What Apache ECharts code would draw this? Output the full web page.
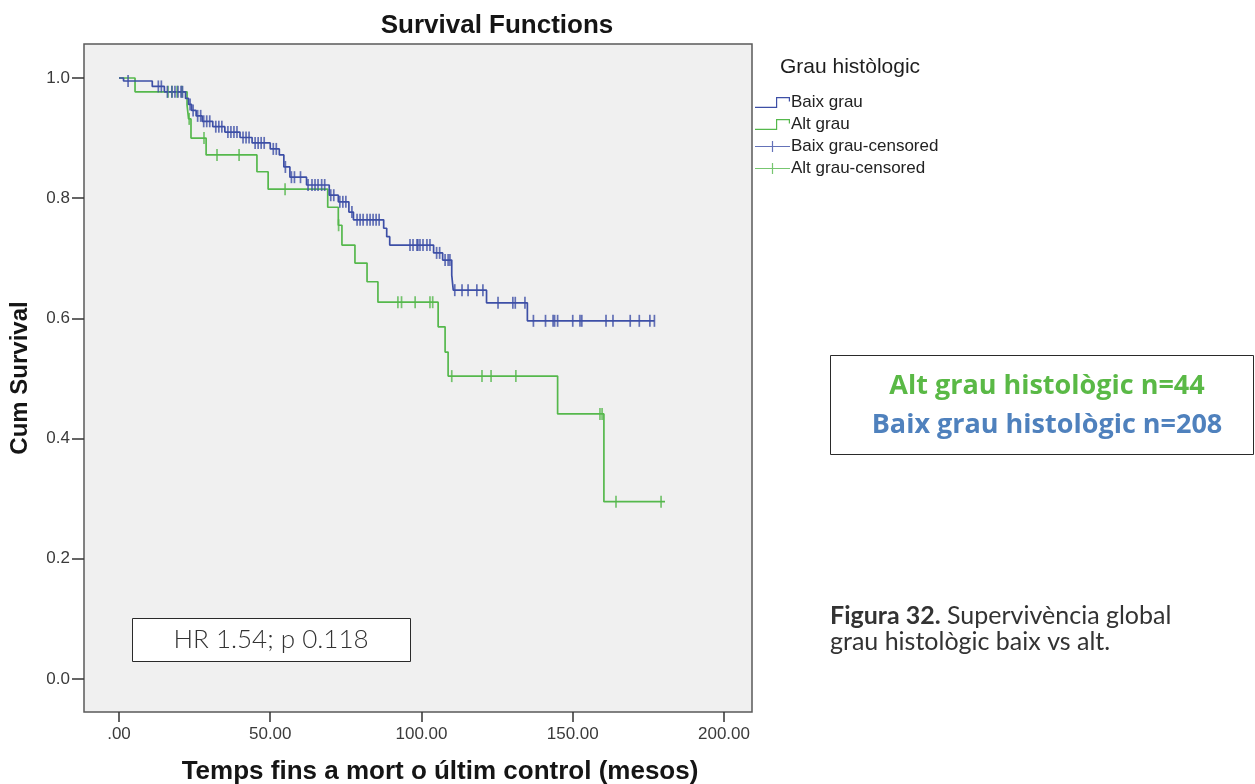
<!DOCTYPE html>
<html>
<head>
<meta charset="utf-8">
<script src="https://cdn.jsdelivr.net/npm/echarts@6/dist/echarts.min.js"></script>
<style>
  html, body { margin: 0; padding: 0; background: #ffffff; }
  #chart { width: 1255px; height: 784px; }
</style>
</head>
<body>
<div id="chart"></div>
<script>
// Axis ticks
const xTicks = [0, 50, 100, 150, 200];
const yTicks = [0, 0.2, 0.4, 0.6, 0.8, 1.0];

// Kaplan-Meier estimate, low histological grade (n=208): event times and survival after each step
const baixTimes = [0, 1.5, 11, 15, 22, 23, 24, 25.5, 27.5, 31, 35, 40, 44, 50, 53, 54.5, 56.5, 62, 69.5, 72.5, 76, 77.5, 87.5, 88.5, 89.5, 104, 107, 110, 110.5, 121.5, 135];
const baixSurv  = [1, 0.995, 0.986, 0.977, 0.966, 0.956, 0.946, 0.937, 0.928, 0.919, 0.910, 0.901, 0.892, 0.882, 0.872, 0.852, 0.835, 0.822, 0.805, 0.794, 0.777, 0.764, 0.750, 0.736, 0.722, 0.709, 0.697, 0.672, 0.647, 0.626, 0.596];
const baixLastFollowUp = 177;
// Censored follow-up times, low grade
const baixCensored = [3, 13, 14, 16, 17.5, 18.5, 19.5, 20.5, 21, 23.5, 24.5, 26, 27, 28, 29, 30, 32, 33, 34, 36, 37, 38, 39, 41, 42, 43, 45, 46, 47, 48, 51, 52, 55, 57, 58, 60, 62.5, 63.8, 64.8, 65.8, 67, 68, 70, 71, 73, 74, 75, 77, 78.7, 79.7, 80.7, 82, 83, 84, 85, 86, 96.2, 97.2, 98.5, 98.8, 99.5, 100.5, 101.8, 102.8, 105, 106, 107.8, 108.8, 109.4, 111, 113.4, 115.4, 118.3, 120.3, 125.3, 130.2, 131, 134.2, 137, 141, 143.5, 144, 145, 150, 152.4, 153, 161, 163.3, 169, 172, 175.5, 177];

// Kaplan-Meier estimate, high histological grade (n=44)
const altTimes = [0, 5.3, 22.5, 23, 23.8, 28.8, 45.6, 49.3, 69, 72.5, 73.7, 78, 82, 85.6, 105.5, 107.8, 108.8, 145, 160.3];
const altSurv  = [1, 0.977, 0.955, 0.932, 0.900, 0.872, 0.844, 0.815, 0.785, 0.755, 0.722, 0.692, 0.661, 0.627, 0.586, 0.544, 0.504, 0.441, 0.295];
const altLastFollowUp = 180.5;
// Censored follow-up times, high grade
const altCensored = [16.2, 17.5, 19.2, 20.8, 23.2, 28.1, 32.4, 39.7, 54.9, 72.6, 92.2, 93.4, 97.9, 102.8, 103.7, 110, 120, 123, 131.2, 159, 159.7, 164.3, 179.2];

const BLUE = '#3d4fa6';
const GREEN = '#55b84c';

// Survival value of a step function at time t
function survAt(times, surv, t) {
  let s = surv[0];
  for (let i = 0; i < times.length; i++) {
    if (times[i] <= t) s = surv[i];
  }
  return s;
}

function curve(times, surv, last) {
  const pts = times.map((t, i) => [t, surv[i]]);
  pts.push([last, surv[surv.length - 1]]);
  return pts;
}

function marks(times, surv, cens) {
  return cens.map(t => [t, survAt(times, surv, t)]);
}

const stepIcon = 'path://M0,9.8H21V0H35V4.5H33.8V1.2H22.2V11H0Z';
const crossIcon = 'path://M0,4.9H16.9V0H18.1V4.9H35V6.1H18.1V11H16.9V6.1H0Z';

const chart = echarts.init(document.getElementById('chart'), null, { renderer: 'canvas' });

const axisFont = 'Liberation Sans, Arial, sans-serif';
const bodyFont = 'Lato, "Open Sans", sans-serif';
const boxFont = '"Open Sans", Lato, sans-serif';

chart.setOption({
  backgroundColor: '#ffffff',
  animation: false,
  title: [
    {
      text: 'Survival Functions',
      left: 497, top: 13, textAlign: 'center', padding: 0,
      textStyle: { fontFamily: axisFont, fontSize: 26, fontWeight: 'bold', color: '#151515' }
    },
    {
      text: 'Grau històlogic',
      left: 780, top: 57, padding: 0,
      textStyle: { fontFamily: axisFont, fontSize: 21, fontWeight: 'normal', color: '#1e1e1e' }
    }
  ],
  legend: {
    orient: 'vertical',
    left: 755, top: 93,
    padding: 0,
    itemWidth: 35, itemHeight: 11, itemGap: 3,
    textStyle: { fontFamily: axisFont, fontSize: 17, color: '#222', padding: [0, 0, 0, -4], lineHeight: 19 },
    data: [
      { name: 'Baix grau', icon: stepIcon },
      { name: 'Alt grau', icon: stepIcon },
      { name: 'Baix grau-censored', icon: crossIcon },
      { name: 'Alt grau-censored', icon: crossIcon }
    ]
  },
  grid: {
    left: 84, right: 503, top: 44, bottom: 72,
    outerBoundsMode: 'none',
    containLabel: false,
    show: true,
    backgroundColor: '#f0f0f0',
    borderColor: '#5a5a5a',
    borderWidth: 1.5
  },
  xAxis: {
    type: 'value',
    min: -11.57, max: 209.26,
    axisLine: { show: false, onZero: false },
    splitLine: { show: false },
    axisTick: { show: true, inside: false, customValues: xTicks, length: 10, lineStyle: { color: '#333', width: 1.5 } },
    axisLabel: {
      customValues: xTicks, margin: 14,
      fontFamily: axisFont, fontSize: 17, color: '#3a3a3a',
      formatter: v => (v === 0 ? '.00' : v.toFixed(2))
    },
    name: 'Temps fins a mort o últim control (mesos)',
    nameLocation: 'middle', nameGap: 47,
    nameTextStyle: { fontFamily: axisFont, fontSize: 26, fontWeight: 'bold', color: '#151515', padding: [0, 0, 0, 44] }
  },
  yAxis: {
    type: 'value',
    min: -0.0549, max: 1.0566,
    axisLine: { show: false, onZero: false },
    splitLine: { show: false },
    axisTick: { show: true, inside: false, customValues: yTicks, length: 12, lineStyle: { color: '#333', width: 1.5 } },
    axisLabel: {
      customValues: yTicks, margin: 14,
      fontFamily: axisFont, fontSize: 17, color: '#3a3a3a',
      formatter: v => v.toFixed(1)
    },
    name: 'Cum Survival',
    nameLocation: 'middle', nameGap: 52, nameRotate: 90,
    nameTextStyle: { fontFamily: axisFont, fontSize: 24, fontWeight: 'bold', color: '#151515' }
  },
  series: [
    {
      name: 'Baix grau', type: 'line', step: 'end',
      symbol: 'none', showSymbol: false,
      color: BLUE,
      lineStyle: { color: BLUE, width: 1.7 },
      data: curve(baixTimes, baixSurv, baixLastFollowUp),
      z: 3
    },
    {
      name: 'Alt grau', type: 'line', step: 'end',
      symbol: 'none', showSymbol: false,
      color: GREEN,
      lineStyle: { color: GREEN, width: 1.7 },
      data: curve(altTimes, altSurv, altLastFollowUp),
      z: 2
    },
    {
      name: 'Baix grau-censored', type: 'scatter',
      symbol: 'path://M0,0H1V10H0Z', symbolSize: [1.7, 12],
      color: BLUE,
      itemStyle: { color: BLUE },
      data: marks(baixTimes, baixSurv, baixCensored),
      z: 4
    },
    {
      name: 'Alt grau-censored', type: 'scatter',
      symbol: 'path://M0,0H1V10H0Z', symbolSize: [1.7, 12],
      color: GREEN,
      itemStyle: { color: GREEN },
      data: marks(altTimes, altSurv, altCensored),
      z: 3
    }
  ],
  graphic: [
    {
      type: 'rect', left: 132, top: 618, z: 10,
      shape: { width: 278, height: 43 },
      style: { fill: '#ffffff', stroke: '#2a2a2a', lineWidth: 1 }
    },
    {
      type: 'text', x: 271, y: 640, z: 11,
      style: { text: 'HR 1.54; p 0.118', fontFamily: bodyFont, fontSize: 26, fontWeight: 300, fill: '#333', align: 'center', verticalAlign: 'middle' }
    },
    {
      type: 'rect', left: 830, top: 355, z: 10,
      shape: { width: 423, height: 99 },
      style: { fill: '#ffffff', stroke: '#2a2a2a', lineWidth: 1 }
    },
    {
      type: 'text', x: 1047, y: 386, z: 11,
      style: { text: 'Alt grau histològic n=44', fontFamily: boxFont, fontSize: 27, fontWeight: 'bold', fill: '#5ab946', align: 'center', verticalAlign: 'middle' }
    },
    {
      type: 'text', x: 1047, y: 425, z: 11,
      style: { text: 'Baix grau histològic n=208', fontFamily: boxFont, fontSize: 27, fontWeight: 'bold', fill: '#4f81bd', align: 'center', verticalAlign: 'middle' }
    },
    {
      type: 'text', x: 830, y: 603, z: 11,
      style: {
        text: '{b|Figura 32.} Supervivència global\ngrau histològic baix vs alt.',
        fontFamily: bodyFont, fontSize: 25, fill: '#333', lineHeight: 26,
        rich: { b: { fontFamily: bodyFont, fontSize: 25, fontWeight: 'bold', fill: '#333' } }
      }
    }
  ]
});
</script>
</body>
</html>
